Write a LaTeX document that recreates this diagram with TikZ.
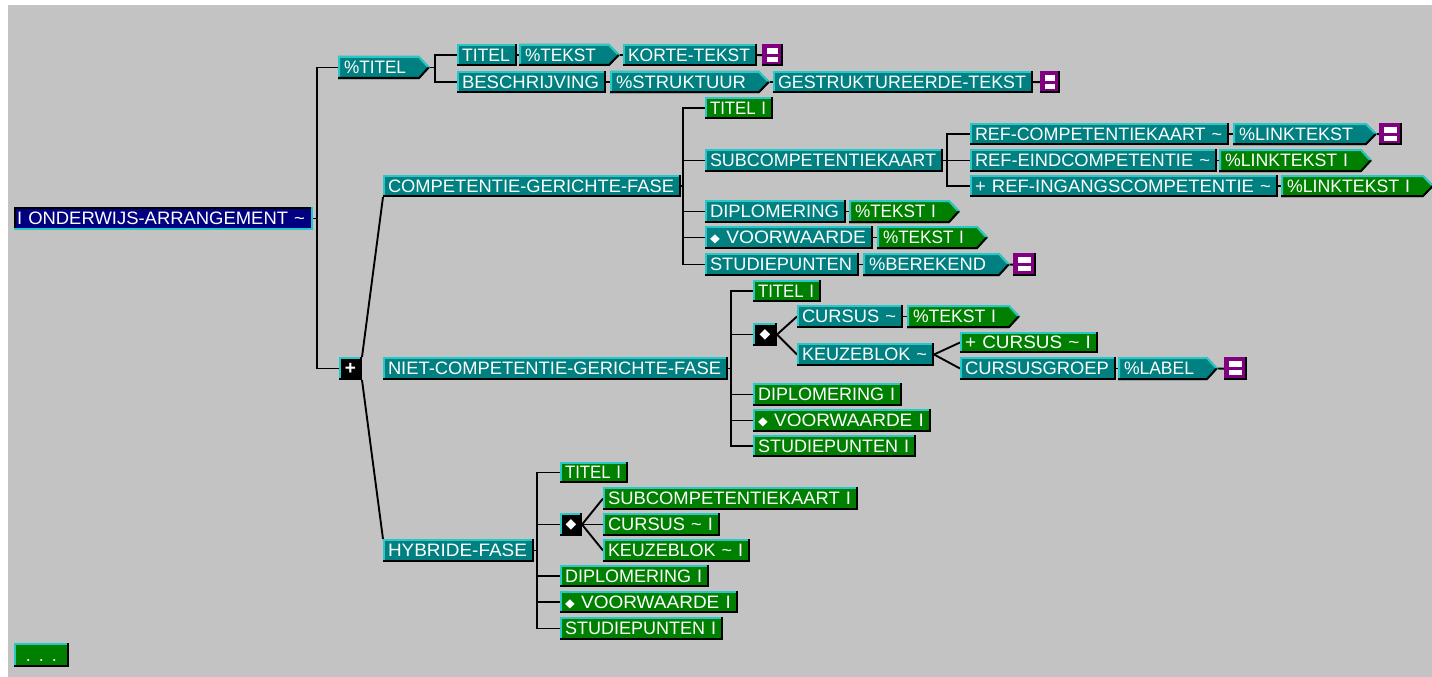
\documentclass[tikz,border=0pt]{standalone}
\usepackage{fontspec}
\setmainfont{Liberation Sans}
\newfontfamily\symf{DejaVu Sans}
\usepackage{graphicx}
\definecolor{bgc}{RGB}{195,195,195}
\definecolor{tl}{RGB}{0,128,128}
\definecolor{gr}{RGB}{0,128,0}
\definecolor{pu}{RGB}{128,0,128}
\definecolor{nv}{RGB}{0,0,128}
\definecolor{hl}{RGB}{40,200,200}
\pgfdeclarelayer{lines}
\pgfsetlayers{lines,main}
\tikzset{
  boxtext/.style={inner sep=0pt, outer sep=0pt, text=white, font={\fontsize{18}{18}\selectfont}, align=left, text height=12.9pt, text depth=0pt},
  symtext/.style={inner sep=0pt, outer sep=0pt, text=white},
  conn/.style={line width=1.9pt, black},
}
\newcommand\dm{\raisebox{1.2pt}{\symf\fontsize{12}{12}\selectfont ◆}}
\newcommand\bigdm{{\symf\fontsize{14}{14}\selectfont ◆}}
\newcommand\tld{\textasciitilde}
\newcommand\mybox[7]{%
  \pgfmathsetmacro\bw{#4-#2}%
  \pgfmathsetmacro\bh{#5-#3}%
  \pgfmathsetmacro\tw{#4-#2-12}%
  \fill[black] (#2,#3) rectangle (#4,#5);
  \fill[hl] (#2,#3) rectangle ({#4-2},{#5-2});
  \fill[#6] ({#2+2},{#3+2}) rectangle ({#4-2},{#5-2});
  \node[boxtext, text width=\bw pt, minimum height=\bh pt, anchor=north west] (#1) at (#2,#3) {\hspace*{5pt}\resizebox{\tw pt}{\height}{#7}};
}
\newcommand\myarr[7]{%
  \pgfmathsetmacro\xb{#4-11}%
  \pgfmathsetmacro\ym{(#3+#5)/2}%
  \pgfmathsetmacro\bw{#4-11-#2}%
  \pgfmathsetmacro\bh{#5-#3}%
  \pgfmathsetmacro\tw{#4-#2-30}%
  \fill[#6] (#2,#3) -- (\xb,#3) -- (#4,\ym) -- (\xb,#5) -- (#2,#5) -- cycle;
  \draw[hl, line width=2pt] ({#2+1},#5) -- ({#2+1},{#3+1}) -- (\xb,{#3+1}) -- ({#4-1.4},\ym);
  \draw[black, line width=2pt] ({#4-1.4},\ym) -- (\xb,{#5-1}) -- (#2,{#5-1});
  \node[boxtext, text width=\bw pt, minimum height=\bh pt, anchor=north west] (#1) at (#2,#3) {\hspace*{6pt}\resizebox{\tw pt}{\height}{#7}};
  \coordinate (#1-tip) at (#4,\ym);
}
\newcommand\mykbox[7]{%
  \pgfmathsetmacro\bw{#4-#2}%
  \pgfmathsetmacro\bh{#5-#3}%
  \fill[black] (#2,#3) rectangle (#4,#5);
  \fill[hl] (#2,#3) rectangle ({#4-2},{#5-2});
  \fill[#6] ({#2+2},{#3+2}) rectangle ({#4-2},{#5-2});
  \node[symtext, minimum width=\bw pt, minimum height=\bh pt, anchor=north west] (#1) at (#2,#3) {#7};
}
\newcommand\mypbox[5]{%
  \pgfmathsetmacro\bw{#4-#2}%
  \pgfmathsetmacro\bh{#5-#3}%
  \fill[black] (#2,#3) rectangle (#4,#5);
  \fill[pu] (#2,#3) rectangle ({#4-2},{#5-2});
  \fill[white] ({#2+5},{#3+4}) rectangle ({#4-5},{#3+10});
  \fill[white] ({#2+5},{#3+13}) rectangle ({#4-5},{#3+18});
  \node[inner sep=0pt, minimum width=\bw pt, minimum height=\bh pt, anchor=north west] (#1) at (#2,#3) {};
}
\begin{document}
\begin{tikzpicture}[x=1pt,y=-1pt]
\useasboundingbox (0,0) rectangle (1432,677);
\begin{pgfonlayer}{lines}
\fill[white] (0,0) rectangle (1432,677);
\fill[bgc] (8,5) rectangle (1432,677);
\end{pgfonlayer}

% root
\fill[hl] (14,207) rectangle (313,230);
\fill[black] (14,207) rectangle (311,228);
\fill[nv] (16,209) rectangle (311,228);
\node[boxtext, text width=299pt, minimum height=23pt, anchor=north west] (root) at (14,207) {\hspace*{3pt}\resizebox{288pt}{\height}{I ONDERWIJS-ARRANGEMENT \tld}};

% %TITEL group
\myarr{ptitel}{338}{56}{430}{79}{tl}{\%TITEL}
\mybox{titel1}{457}{44}{517}{66}{tl}{TITEL}
\myarr{ptekst1}{519}{44}{620}{66}{tl}{\%TEKST}
\mybox{korte}{623}{44}{757}{66}{tl}{KORTE-TEKST}
\mypbox{pu1}{762}{44}{783}{66}
\mybox{beschr}{457}{71}{606}{93}{tl}{BESCHRIJVING}
\myarr{pstrukt}{610}{71}{770}{93}{tl}{\%STRUKTUUR}
\mybox{gestr}{773}{71}{1033}{93}{tl}{GESTRUKTUREERDE-TEKST}
\mypbox{pu2}{1040}{71}{1060}{93}

% plus
\mykbox{plus}{339}{357}{362}{380}{black}{{\fontsize{19}{19}\selectfont\bfseries +}}

% competentie
\mybox{comp}{383}{175}{681}{197}{tl}{COMPETENTIE-GERICHTE-FASE}
\mybox{ctitel}{705}{97}{773}{119}{gr}{TITEL I}
\mybox{csub}{705}{149}{943}{172}{tl}{SUBCOMPETENTIEKAART}
\mybox{cdipl}{705}{200}{846}{223}{tl}{DIPLOMERING}
\myarr{cdipt}{849}{200}{960}{223}{gr}{\%TEKST I}
\mybox{cvoor}{705}{226}{873}{249}{tl}{\dm\ VOORWAARDE}
\myarr{cvoort}{877}{226}{988}{249}{gr}{\%TEKST I}
\mybox{cstud}{705}{253}{859}{276}{tl}{STUDIEPUNTEN}
\myarr{cber}{863}{253}{1010}{276}{tl}{\%BEREKEND}
\mypbox{pu3}{1013}{253}{1036}{276}

\mybox{refc}{970}{123}{1229}{145}{tl}{REF-COMPETENTIEKAART \tld}
\myarr{refct}{1233}{123}{1377}{145}{tl}{\%LINKTEKST}
\mypbox{pu4}{1379}{123}{1402}{145}
\mybox{refe}{970}{149}{1217}{172}{tl}{REF-EINDCOMPETENTIE \tld}
\myarr{refet}{1219}{149}{1372}{172}{gr}{\%LINKTEKST I}
\mybox{refi}{970}{175}{1278}{197}{tl}{+ REF-INGANGSCOMPETENTIE \tld}
\myarr{refit}{1281}{175}{1434}{197}{gr}{\%LINKTEKST I}

% niet-competentie
\mybox{niet}{383}{357}{728}{380}{tl}{NIET-COMPETENTIE-GERICHTE-FASE}
\mybox{ntitel}{753}{280}{821}{302}{gr}{TITEL I}
\mykbox{nd}{753}{323}{777}{346}{black}{\bigdm}
\mybox{ncur}{797}{305}{903}{328}{tl}{CURSUS \tld}
\myarr{ncurt}{907}{305}{1020}{328}{gr}{\%TEKST I}
\mybox{nkeu}{797}{343}{934}{366}{tl}{KEUZEBLOK \tld}
\mybox{npc}{960}{332}{1098}{353}{gr}{+ CURSUS \tld{} I}
\mybox{ncg}{960}{357}{1116}{380}{tl}{CURSUSGROEP}
\myarr{nlab}{1118}{357}{1218}{380}{tl}{\%LABEL}
\mypbox{pu5}{1224}{357}{1247}{380}
\mybox{ndipl}{753}{383}{902}{406}{gr}{DIPLOMERING I}
\mybox{nvoor}{753}{409}{931}{432}{gr}{\dm\ VOORWAARDE I}
\mybox{nstud}{753}{435}{916}{457}{gr}{STUDIEPUNTEN I}

% hybride
\mybox{hyb}{383}{539}{534}{562}{tl}{HYBRIDE-FASE}
\mybox{htitel}{560}{462}{628}{483}{gr}{TITEL I}
\mykbox{hd}{560}{513}{582}{536}{black}{\bigdm}
\mybox{hsub}{603}{487}{858}{510}{gr}{SUBCOMPETENTIEKAART I}
\mybox{hcur}{603}{513}{720}{536}{gr}{CURSUS \tld{} I}
\mybox{hkeu}{603}{539}{750}{562}{gr}{KEUZEBLOK \tld{} I}
\mybox{hdipl}{560}{565}{709}{587}{gr}{DIPLOMERING I}
\mybox{hvoor}{560}{591}{738}{613}{gr}{\dm\ VOORWAARDE I}
\mybox{hstud}{560}{617}{723}{640}{gr}{STUDIEPUNTEN I}

% dots box
\fill[black] (14,643) rectangle (69,667);
\fill[hl] (14,643) rectangle (67,665);
\fill[gr] (16,645) rectangle (67,665);
\node[boxtext, align=center, text width=55pt, minimum height=24pt, anchor=north west] (dots) at (14,643) {.\hspace{8pt}.\hspace{8pt}.};

% bus coordinates
\coordinate (bx0) at (317,0);
\coordinate (bx1) at (435,0);
\coordinate (bx2) at (683,0);
\coordinate (bx3) at (947,0);
\coordinate (bx4) at (731,0);
\coordinate (bx5) at (537,0);

\begin{pgfonlayer}{lines}
\draw[conn] (root.east) -- (root.east -| bx0);
\draw[conn] (ptitel.west) -- (ptitel.west -| bx0) |- (plus.west);
\draw[conn] (ptitel-tip) -- (ptitel-tip -| bx1);
\draw[conn] (titel1.west) -- (titel1.west -| bx1) |- (beschr.west);
\draw[conn] (titel1.east) -- (ptekst1.west);
\draw[conn] (ptekst1-tip) -- (korte.west);
\draw[conn] (korte.east) -- (pu1.west);
\draw[conn] (beschr.east) -- (pstrukt.west);
\draw[conn] (pstrukt-tip) -- (gestr.west);
\draw[conn] (gestr.east) -- (pu2.west);

\draw[conn] (plus.north east) -- (comp.south west);
\draw[conn] (plus.south east) -- (hyb.north west);

\draw[conn] (comp.east) -- (comp.east -| bx2);
\draw[conn] (ctitel.west) -- (ctitel.west -| bx2) |- (cstud.west);
\foreach \n in {csub,cdipl,cvoor} \draw[conn] (\n.west) -- (\n.west -| bx2);
\draw[conn] (cdipl.east) -- (cdipt.west);
\draw[conn] (cvoor.east) -- (cvoort.west);
\draw[conn] (cstud.east) -- (cber.west);
\draw[conn] (cber-tip) -- (pu3.west);
\draw[conn] (csub.east) -- (csub.east -| bx3);
\draw[conn] (refc.west) -- (refc.west -| bx3) |- (refi.west);
\draw[conn] (refe.west) -- (refe.west -| bx3);
\draw[conn] (refc.east) -- (refct.west);
\draw[conn] (refct-tip) -- (pu4.west);
\draw[conn] (refe.east) -- (refet.west);
\draw[conn] (refi.east) -- (refit.west);

\draw[conn] (niet.east) -- (niet.east -| bx4);
\draw[conn] (ntitel.west) -- (ntitel.west -| bx4) |- (nstud.west);
\foreach \n in {nd,ndipl,nvoor} \draw[conn] (\n.west) -- (\n.west -| bx4);
\draw[conn] (nd.east) -- (ncur.west);
\draw[conn] (nd.east) -- (nkeu.west);
\draw[conn] (ncur.east) -- (ncurt.west);
\draw[conn] (nkeu.east) -- (npc.west);
\draw[conn] (nkeu.east) -- (ncg.west);
\draw[conn] (ncg.east) -- (nlab.west);
\draw[conn] (nlab-tip) -- (pu5.west);

\draw[conn] (hyb.east) -- (hyb.east -| bx5);
\draw[conn] (htitel.west) -- (htitel.west -| bx5) |- (hstud.west);
\foreach \n in {hd,hdipl,hvoor} \draw[conn] (\n.west) -- (\n.west -| bx5);
\draw[conn] (hd.east) -- (hsub.west);
\draw[conn] (hd.east) -- (hcur.west);
\draw[conn] (hd.east) -- (hkeu.west);
\end{pgfonlayer}
\end{tikzpicture}
\end{document}
